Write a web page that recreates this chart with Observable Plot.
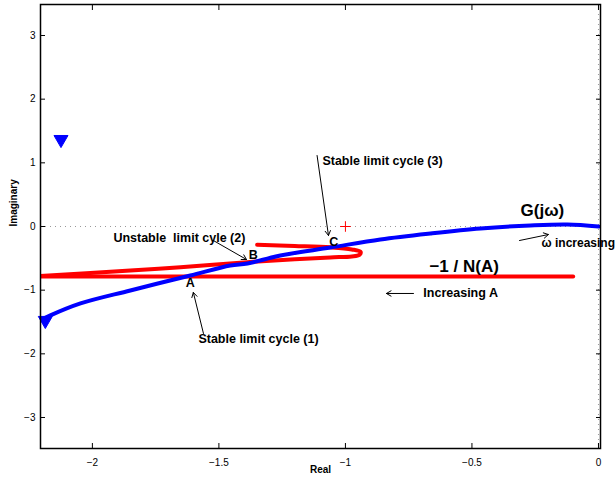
<!DOCTYPE html>
<html>
<head>
<meta charset="utf-8">
<script src="https://cdn.jsdelivr.net/npm/d3@7"></script>
<script src="https://cdn.jsdelivr.net/npm/@observablehq/plot@0.6"></script>
<style>
  html, body { margin: 0; padding: 0; background: #fff; }
  #chart svg { display: block; }
</style>
</head>
<body>
<div id="chart"></div>
<script>
// G(jω) curve (blue)
const gX = [-2.206, -2.166, -2.047, -1.850, -1.613, -1.455, -1.387, -1.257, -1.059, -0.862, -0.664, -0.466, -0.269, -0.123, 0];
const gY = [-1.476, -1.397, -1.209, -1.005, -0.769, -0.612, -0.581, -0.455, -0.330, -0.204, -0.110, -0.031, 0.016, 0.031, 0];
// -1/N(A) curve (red), hairpin part
const nX = [-1.349, -1.2, -1.059, -0.975, -0.94, -0.945, -0.975, -1.06, -1.2, -1.389, -1.652, -1.85, -2.206];
const nY = [-0.287, -0.305, -0.327, -0.36, -0.40, -0.445, -0.47, -0.485, -0.515, -0.56, -0.639, -0.69, -0.777];
// -1/N(A) straight part
const hX = [-2.21, -0.1];
const hY = [-0.785, -0.785];
// direction markers on G(jω)
const markX = [-2.124, -2.186];
const markY = [1.366, -1.476];
// critical point
const critX = [-1];
const critY = [0];
// axis ticks
const xTicks = [-2, -1.5, -1, -0.5, 0];
const yTicks = [-3, -2, -1, 0, 1, 2, 3];
// annotations
const labels = ["Stable limit cycle (3)", "Unstable\u00a0 limit cyle (2)", "Stable limit cycle (1)", "Increasing A"];
const labelX = [-1.091, -1.917, -1.581, -0.692];
const labelY = [1.036, -0.173, -1.774, -1.052];
const points = ["C", "B", "A"];
const pointX = [-1.046, -1.364, -1.613];
const pointY = [-0.247, -0.455, -0.895];
const bigLabels = ["G(j\u03c9)", "\u22121 / N(A)"];
const bigX = [-0.308, -0.668];
const bigY = [0.251, -0.628];
const omegaLabel = ["\u03c9 increasing"];
const omegaX = [-0.225];
const omegaY = [-0.267];
// arrows
const arrX1 = [-1.112, -1.522, -1.561, -0.312, -0.731];
const arrY1 = [1.115, -0.22, -1.68, -0.22, -1.052];
const arrX2 = [-1.067, -1.391, -1.601, -0.198, -0.838];
const arrY2 = [-0.141, -0.518, -1.036, -0.126, -1.052];

const gData = gX.map((x, i) => ({x, y: gY[i]}));
const nData = nX.map((x, i) => ({x, y: nY[i]}));
const hData = hX.map((x, i) => ({x, y: hY[i]}));
const markData = markX.map((x, i) => ({x, y: markY[i]}));
const critData = critX.map((x, i) => ({x, y: critY[i]}));
const labelData = labels.map((t, i) => ({t, x: labelX[i], y: labelY[i]}));
const pointData = points.map((t, i) => ({t, x: pointX[i], y: pointY[i]}));
const bigData = bigLabels.map((t, i) => ({t, x: bigX[i], y: bigY[i]}));
const omegaData = omegaLabel.map((t, i) => ({t, x: omegaX[i], y: omegaY[i]}));
const arrData = arrX1.map((x1, i) => ({x1, y1: arrY1[i], x2: arrX2[i], y2: arrY2[i]}));

const font = "'Liberation Sans', Arial, Helvetica, sans-serif";

const chart = Plot.plot({
  width: 615,
  height: 478,
  marginLeft: 40,
  marginRight: 15,
  marginTop: 4,
  marginBottom: 30,
  style: {fontFamily: font, background: "#fff", overflow: "visible"},
  x: {domain: [-2.205, 0.008]},
  y: {domain: [-3.487, 3.487]},
  marks: [
    Plot.ruleY([0], {stroke: "#999", strokeDasharray: "1,4", strokeWidth: 1}),
    Plot.ruleX([0], {stroke: "#999", strokeDasharray: "1,4", strokeWidth: 1}),
    Plot.axisX({ticks: xTicks, tickSize: -5, tickPadding: 15, anchor: "bottom", label: null, fontSize: 10, tickFormat: d3.format("~g")}),
    Plot.axisX({ticks: xTicks, tickSize: -5, anchor: "top", label: null, tickFormat: () => ""}),
    Plot.axisY({ticks: yTicks, tickSize: -5, tickPadding: 10, anchor: "left", label: null, fontSize: 10, tickFormat: d3.format("~g")}),
    Plot.axisY({ticks: yTicks, tickSize: -5, anchor: "right", label: null, tickFormat: () => ""}),
    Plot.line(hData, {x: "x", y: "y", stroke: "#ff0000", strokeWidth: 4, clip: true}),
    Plot.line(nData, {x: "x", y: "y", stroke: "#ff0000", strokeWidth: 4, curve: "catmull-rom", clip: true}),
    Plot.line(gData, {x: "x", y: "y", stroke: "#0000ff", strokeWidth: 4, curve: "catmull-rom", clip: true}),
    Plot.dot(markData, {x: "x", y: "y", symbol: "triangle", rotate: 180, r: 5.2, fill: "#0000ff", stroke: "#0000ff", strokeWidth: 1}),
    Plot.dot(critData, {x: "x", y: "y", symbol: "plus", r: 3.5, stroke: "#ff0000", strokeWidth: 1}),
    Plot.arrow(arrData, {x1: "x1", y1: "y1", x2: "x2", y2: "y2", stroke: "#000", strokeWidth: 1, headLength: 8}),
    Plot.text(labelData, {x: "x", y: "y", text: "t", textAnchor: "start", fontSize: 12.5, fontWeight: "bold", fill: "#000"}),
    Plot.text(pointData, {x: "x", y: "y", text: "t", fontSize: 12.5, fontWeight: "bold", fill: "#000"}),
    Plot.text(bigData, {x: "x", y: "y", text: "t", textAnchor: "start", fontSize: 17, fontWeight: "bold", fill: "#000"}),
    Plot.text(omegaData, {x: "x", y: "y", text: "t", textAnchor: "start", fontSize: 12, fontWeight: "bold", fill: "#000"}),
    Plot.text(["Real"], {frameAnchor: "bottom", dy: 24, text: d => d, fontSize: 10, fontWeight: "bold", fill: "#000"}),
    Plot.text(["Imaginary"], {frameAnchor: "left", dx: -27, rotate: -90, text: d => d, fontSize: 10, fontWeight: "bold", fill: "#000"}),
    Plot.frame({stroke: "#000", strokeWidth: 1.5})
  ]
});
document.getElementById("chart").appendChild(chart);
</script>
</body>
</html>
